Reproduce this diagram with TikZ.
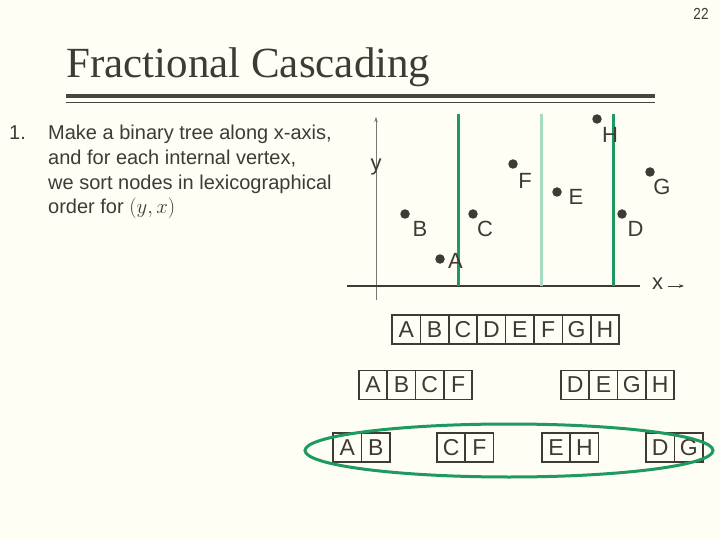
\documentclass[tikz,border=0pt]{standalone}
\usepackage{fontspec}
\setmainfont{Liberation Sans}
\newfontfamily\titlefont{Liberation Serif}
\usetikzlibrary{arrows.meta,shapes.geometric}
\definecolor{bgc}{HTML}{FEFEF4}
\definecolor{ink}{HTML}{3F3A35}
\definecolor{rulec}{HTML}{4A4540}
\definecolor{dgreen}{HTML}{1E9A5E}
\definecolor{lgreen}{HTML}{A8DCC0}
\tikzset{
  cell/.style={draw=ink, line width=1.6pt, minimum width=28.4pt, minimum height=29pt, inner sep=0pt, text=ink, font=\fontsize{23}{23}\selectfont},
  ptdot/.style={circle, fill=ink, minimum size=9.5pt, inner sep=0pt},
  ptlab/.style={text=ink, inner sep=0pt, font=\fontsize{22}{22}\selectfont},
  body/.style={text=ink, inner sep=0pt, anchor=base west, font=\fontsize{20}{24}\selectfont},
  splitline/.style={line width=3pt}
}
\begin{document}
\begin{tikzpicture}[x=1pt,y=-1pt]
\fill[bgc] (0,0) rectangle (720,540);
\useasboundingbox (0,0) rectangle (720,540);
% page number and title
\node[text=ink, inner sep=0pt, font=\fontsize{16}{16}\selectfont, xscale=0.85] (pg) at (701,14) {22};
\node[text=ink, inner sep=0pt, anchor=base west, font=\titlefont\fontsize{43}{43}\selectfont] (title) at (66,78) {Fractional Cascading};
\draw[rulec, line width=4pt] (66,96.5) -- (655,96.5);
\draw[rulec, line width=1.6pt] (66,102.5) -- (655,102.5);
% body text
\node[body] (num) at (9,140) {1.};
\node[body] (l1) at (48,140) {Make a binary tree along x-axis,};
\node[body] (l2) at (48,165) {and for each internal vertex,};
\node[body] (l3) at (48,190) {we sort nodes in lexicographical};
\node[body] (l4) at (48,214) {order for $(y,x)$};
% axes
\coordinate (yb) at (376,300);
\coordinate (yt) at (376,117);
\draw[ink!70, line width=0.6pt, -{Stealth[length=5pt,width=3.5pt]}] (yb) -- (yt);
\coordinate (xl) at (347,286);
\coordinate (xr) at (640,286);
\draw[ink, line width=1.2pt] (xl) -- (xr);
\node[ptlab] (ylab) at (376,167) {y};
\node[ptlab] (xlab) at (657.5,284) {x};
\coordinate (xa1) at (668,286);
\coordinate (xa2) at (684,286);
\draw[ink, line width=0.8pt, -{Stealth[length=5pt,width=3.5pt]}] (xa1) -- (xa2);
% split lines
\coordinate (s1t) at (458,114); \coordinate (s1b) at (458,286);
\coordinate (s2t) at (541,114); \coordinate (s2b) at (541,286);
\coordinate (s3t) at (613,114); \coordinate (s3b) at (613,286);
\draw[dgreen, splitline] (s1t) -- (s1b);
\draw[lgreen, splitline] (s2t) -- (s2b);
\draw[dgreen, splitline] (s3t) -- (s3b);
% points
\node[ptdot] (pH) at (597,119) {};
\node[ptlab] (tH) at (610,134.5) {H};
\node[ptdot] (pF) at (513,164) {};
\node[ptlab] (tF) at (525,181) {F};
\node[ptdot] (pE) at (557,192) {};
\node[ptlab] (tE) at (576,197) {E};
\node[ptdot] (pG) at (650,172) {};
\node[ptlab] (tG) at (662,186.5) {G};
\node[ptdot] (pB) at (405,214) {};
\node[ptlab] (tB) at (420,228.5) {B};
\node[ptdot] (pC) at (473,214) {};
\node[ptlab] (tC) at (485,228.5) {C};
\node[ptdot] (pD) at (622,214) {};
\node[ptlab] (tD) at (635.5,228.5) {D};
\node[ptdot] (pA) at (440,259) {};
\node[ptlab] (tA) at (455.5,260.5) {A};
% arrays
\foreach \l [count=\i from 0] in {A,B,C,D,E,F,G,H}
  \node[cell] (r0c\i) at ({392+28.4*(\i+0.5)},329.5) {\l};
\foreach \l [count=\i from 0] in {A,B,C,F}
  \node[cell] (r1a\i) at ({359+28.3*(\i+0.5)},385) {\l};
\foreach \l [count=\i from 0] in {D,E,G,H}
  \node[cell] (r1b\i) at ({561+28.3*(\i+0.5)},385) {\l};
\foreach \l [count=\i from 0] in {A,B}
  \node[cell] (r2a\i) at ({333+28.5*(\i+0.5)},447.5) {\l};
\foreach \l [count=\i from 0] in {C,F}
  \node[cell] (r2b\i) at ({437+28.2*(\i+0.5)},447.5) {\l};
\foreach \l [count=\i from 0] in {E,H}
  \node[cell] (r2c\i) at ({542+28.2*(\i+0.5)},447.5) {\l};
\foreach \l [count=\i from 0] in {D,G}
  \node[cell] (r2d\i) at ({646+28.5*(\i+0.5)},447.5) {\l};
% ellipse
\node[draw=dgreen, line width=3pt, ellipse, inner sep=0pt, minimum width=408pt, minimum height=53pt] (ell) at (509,450.5) {};
\end{tikzpicture}
\end{document}
